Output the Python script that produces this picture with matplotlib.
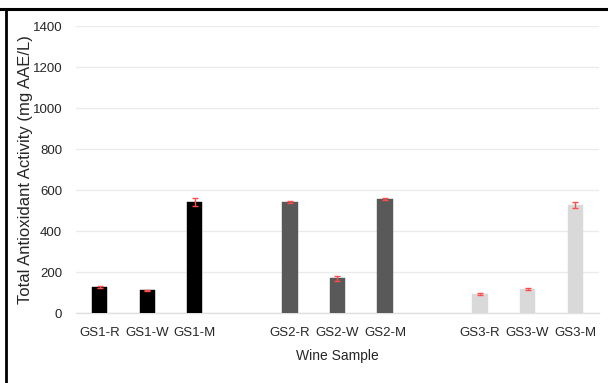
import matplotlib
matplotlib.use("Agg")
import matplotlib.pyplot as plt
from matplotlib.lines import Line2D

categories = ["GS1-R", "GS1-W", "GS1-M", "GS2-R", "GS2-W", "GS2-M", "GS3-R", "GS3-W", "GS3-M"]
values = [127, 112, 543, 543, 172, 557, 94, 120, 528]
errors = [5, 3, 18, 3, 12, 4, 6, 4, 14]
group_colors = ["#000000", "#595959", "#d9d9d9"]
y_ticks = [0, 200, 400, 600, 800, 1000, 1200, 1400]

plt.rcParams['font.family'] = ['Liberation Sans', 'DejaVu Sans']

fig = plt.figure(figsize=(6.08, 3.83), dpi=100)
ax = fig.add_axes([0.125, 0.182, 0.86, 0.749])

# 11 slots with empty slots between groups
positions = []
colors = []
for i in range(len(categories)):
    g = i // 3
    positions.append(i + g)
    colors.append(group_colors[g])

ax.bar(positions, values, width=0.32, color=colors, zorder=3, edgecolor=colors, linewidth=0.3)
ax.errorbar(positions, values, yerr=errors, fmt="none", ecolor="#ff4d4d",
            elinewidth=1.0, capsize=2, capthick=1.0, zorder=4)

ax.set_xlim(-0.5, 10.5)
ax.set_ylim(0, 1400)
ax.set_yticks(y_ticks)
ax.set_xticks(positions)
ax.set_xticklabels(categories, fontsize=9.5)
ax.set_yticklabels([str(v) for v in y_ticks], fontsize=9.5)
ax.yaxis.grid(True, color="#ebebeb", linewidth=1.0, zorder=0)
ax.set_axisbelow(True)
for s in ["top", "right", "left"]:
    ax.spines[s].set_visible(False)
ax.spines["bottom"].set_color("#e0e0e0")
ax.spines["bottom"].set_linewidth(1.0)
ax.tick_params(axis="both", length=0, colors="#262626")
ax.tick_params(axis="x", pad=10)
ax.tick_params(axis="y", pad=10)

ax.set_xlabel("Wine Sample", fontsize=10, color="#262626", labelpad=7)
ax.set_ylabel("Total Antioxidant Activity (mg AAE/L)", fontsize=12, color="#262626")
ax.yaxis.set_label_coords(-0.083, 0.5)

# figure frame: top and left lines
fig.add_artist(Line2D([0, 1], [0.976, 0.976], transform=fig.transFigure, color="black", linewidth=2.2))
fig.add_artist(Line2D([0.0105, 0.0105], [0, 0.976], transform=fig.transFigure, color="black", linewidth=2.0))

fig.savefig("out.png", dpi=100)
